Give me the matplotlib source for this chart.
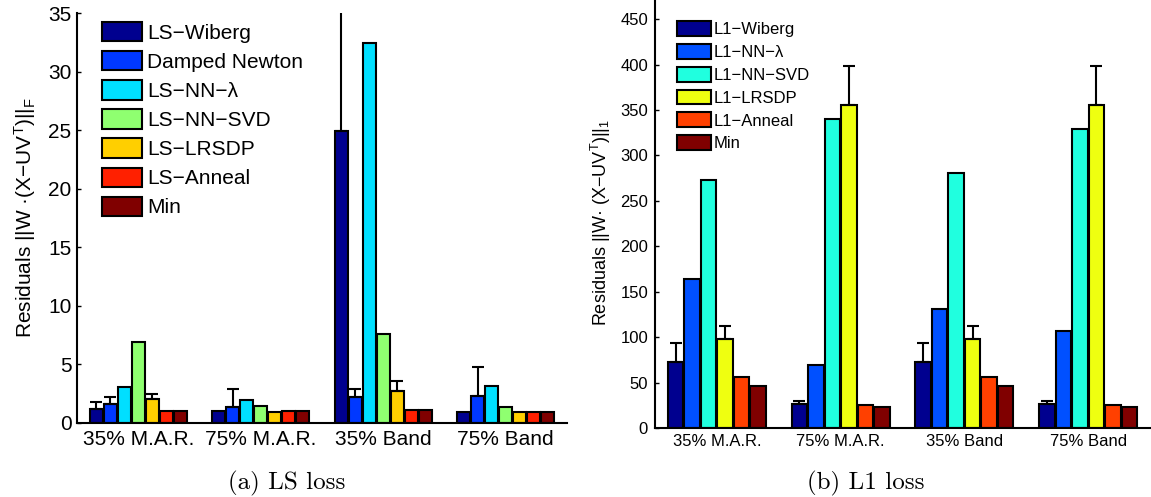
import numpy as np
import matplotlib
matplotlib.use("Agg")
import matplotlib.pyplot as plt

plt.rcParams['font.family'] = ['Liberation Sans', 'DejaVu Sans']
plt.rcParams['mathtext.fontset'] = 'custom'
plt.rcParams['mathtext.rm'] = 'Liberation Sans'
plt.rcParams['mathtext.it'] = 'Liberation Sans:italic'
plt.rcParams['mathtext.sf'] = 'Liberation Sans'

groups = ['35% M.A.R.', '75% M.A.R.', '35% Band', '75% Band']

# ---- LS loss ----
ls_labels = ['LS\u2212Wiberg', 'Damped Newton', 'LS\u2212NN\u2212\u03bb', 'LS\u2212NN\u2212SVD',
             'LS\u2212LRSDP', 'LS\u2212Anneal', 'Min']
ls_wiberg = [1.20, 1.03, 24.9, 0.98]
ls_damped = [1.64, 1.38, 2.20, 2.30]
ls_nn_lambda = [3.05, 2.00, 32.4, 3.20]
ls_nn_svd = [6.95, 1.46, 7.60, 1.40]
ls_lrsdp = [2.05, 0.90, 2.73, 0.95]
ls_anneal = [1.03, 1.03, 1.10, 0.95]
ls_min = [1.03, 1.03, 1.10, 0.95]
# upper error lengths (0 = none)
ls_wiberg_err = [0.60, 0.0, 20.0, 0.0]
ls_damped_err = [0.56, 1.52, 0.70, 2.50]
ls_lrsdp_err = [0.45, 0.0, 0.87, 0.0]
ls_colors = ['#00008f', '#0038ff', '#00dfff', '#8fff70', '#ffcf00', '#ff2000', '#800000']

# ---- L1 loss ----
l1_labels = ['L1\u2212Wiberg', 'L1\u2212NN\u2212\u03bb', 'L1\u2212NN\u2212SVD', 'L1\u2212LRSDP',
             'L1\u2212Anneal', 'Min']
l1_wiberg = [72.5, 26.5, 72.5, 26.5]
l1_nn_lambda = [164, 69, 131, 107]
l1_nn_svd = [273, 340, 281, 329]
l1_lrsdp = [98, 356, 98, 356]
l1_anneal = [56, 25.5, 56, 25.5]
l1_min = [46.5, 23.5, 46.5, 23.5]
l1_wiberg_err = [21.5, 3.5, 21.5, 3.5]
l1_lrsdp_err = [14, 43, 14, 43]
l1_colors = ['#00008f', '#0050ff', '#20ffdf', '#efff10', '#ff4000', '#800000']

W, H = 1151, 497
fig = plt.figure(figsize=(W / 100, H / 100), dpi=100)


def grouped_bars(ax, series, errs, colors, labels):
    n = len(series)
    slot = 0.8 / n
    x = np.arange(1, len(groups) + 1)
    for i, (vals, err, c, lab) in enumerate(zip(series, errs, colors, labels)):
        pos = x - 0.4 + slot * (i + 0.5)
        vals = np.asarray(vals, dtype=float)
        ax.bar(pos, vals, width=slot * 0.93, color=c, edgecolor='black',
               linewidth=1.5, label=lab, zorder=2)
        if err is not None:
            err = np.asarray(err, dtype=float)
            m = err > 0
            ax.errorbar(pos[m], vals[m], yerr=[np.zeros(m.sum()), err[m]],
                        fmt='none', ecolor='black', elinewidth=1.5,
                        capsize=4, capthick=1.5, zorder=3)
    ax.set_xticks(x)
    ax.set_xticklabels(groups)
    ax.set_xlim(0.5, 4.5)
    for s in ('top', 'right'):
        ax.spines[s].set_visible(False)
    for s in ('left', 'bottom'):
        ax.spines[s].set_linewidth(1.5)
    ax.tick_params(direction='in', length=3, width=1)


def px_axes(x0, y_bottom, x1, y_top):
    return fig.add_axes([x0 / W, (H - y_bottom) / H, (x1 - x0) / W, (y_bottom - y_top) / H])


# left panel
ax1 = px_axes(77, 423, 567, 13)
grouped_bars(ax1,
             [ls_wiberg, ls_damped, ls_nn_lambda, ls_nn_svd, ls_lrsdp, ls_anneal, ls_min],
             [ls_wiberg_err, ls_damped_err, None, None, ls_lrsdp_err, None, None],
             ls_colors, ls_labels)
ax1.set_ylim(0, 35)
ax1.set_yticks(np.arange(0, 36, 5))
ax1.tick_params(axis='both', labelsize=15)
ax1.tick_params(axis='y', pad=4)
ax1.tick_params(axis='x', pad=5)
ax1.legend(loc='upper left', bbox_to_anchor=(102 / W, 1 - 22 / H),
           bbox_transform=fig.transFigure, frameon=False, fontsize=15,
           handlelength=1.92, handleheight=1.05, labelspacing=0.40,
           handletextpad=0.25, borderpad=0, borderaxespad=0)
fig.text(25 / W, 1 - 218 / H,
         'Residuals ||W \u00b7(X\u2212UV$^{\\mathrm{T}}$)||$_{\\mathrm{F}}$',
         rotation=90, ha='center', va='center', fontsize=15)

# right panel
ax2 = px_axes(655, 428, 1150, 1)
grouped_bars(ax2,
             [l1_wiberg, l1_nn_lambda, l1_nn_svd, l1_lrsdp, l1_anneal, l1_min],
             [l1_wiberg_err, None, None, l1_lrsdp_err, None, None],
             l1_colors, l1_labels)
ax2.set_ylim(0, 470)
ax2.set_yticks(np.arange(0, 451, 50))
ax2.tick_params(axis='both', labelsize=12)
ax2.tick_params(axis='y', pad=5)
ax2.tick_params(axis='x', pad=4)
ax2.legend(loc='upper left', bbox_to_anchor=(677 / W, 1 - 21 / H),
           bbox_transform=fig.transFigure, frameon=False, fontsize=12,
           handlelength=2.04, handleheight=1.0, labelspacing=0.40,
           handletextpad=0.15, borderpad=0, borderaxespad=0)
fig.text(601 / W, 1 - 222 / H,
         'Residuals ||W\u00b7 (X\u2212UV$^{\\mathrm{T}}$)||$_{1}$',
         rotation=90, ha='center', va='center', fontsize=13)

# captions
fig.text(287 / W, 1 - 483 / H, '(a) LS loss', fontfamily='cmr10', fontsize=18,
         ha='center', va='center')
fig.text(866 / W, 1 - 483 / H, '(b) L1 loss', fontfamily='cmr10', fontsize=18,
         ha='center', va='center')

fig.savefig('out.png', dpi=100)
